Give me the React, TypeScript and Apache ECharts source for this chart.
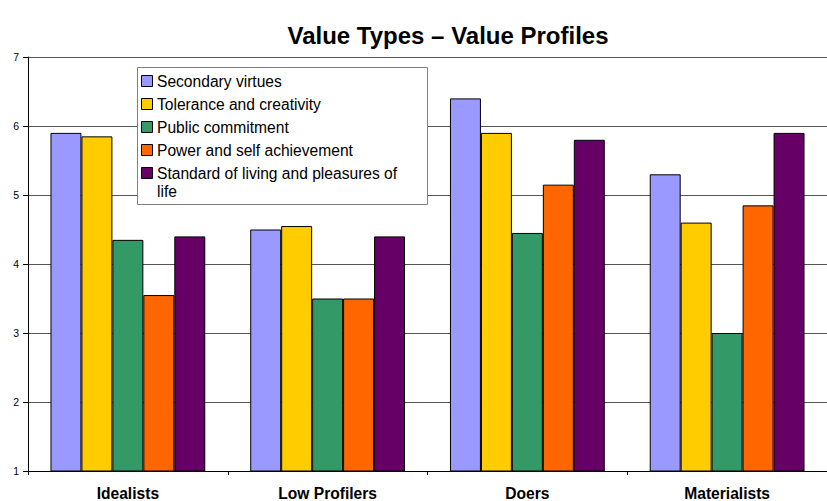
import React, { useEffect, useRef } from "react";
import * as echarts from "echarts";

const categories = ["Idealists", "Low Profilers", "Doers", "Materialists"];
const seriesNames = [
  "Secondary virtues",
  "Tolerance and creativity",
  "Public commitment",
  "Power and self achievement",
  "Standard of living and pleasures of life",
];
const legendLabels = [
  "Secondary virtues",
  "Tolerance and creativity",
  "Public commitment",
  "Power and self achievement",
  "Standard of living and pleasures of\nlife",
];
const colors = ["#9999FF", "#FFCC00", "#339966", "#FF6600", "#660066"];
const secondaryVirtues = [5.9, 4.5, 6.4, 5.3];
const toleranceCreativity = [5.85, 4.55, 5.9, 4.6];
const publicCommitment = [4.35, 3.5, 4.45, 3.0];
const powerAchievement = [3.55, 3.5, 5.15, 4.85];
const standardLiving = [4.4, 4.4, 5.8, 5.9];
const seriesValues = [secondaryVirtues, toleranceCreativity, publicCommitment, powerAchievement, standardLiving];

export default function App() {
  const ref = useRef<HTMLDivElement>(null);
  useEffect(() => {
    if (!ref.current) return;
    const chart = echarts.init(ref.current, undefined, { renderer: "svg" });
    const font = "Arial, 'Liberation Sans', sans-serif";
    const legendEls: any[] = [
      {
        type: "rect",
        shape: { x: 137.5, y: 67.5, width: 290, height: 137 },
        style: { fill: "#fff", stroke: "#808080", lineWidth: 1 },
        z: 100,
      },
    ];
    legendLabels.forEach((lab, i) => {
      const cy = 81 + i * 23;
      legendEls.push({
        type: "rect",
        shape: { x: 141.5, y: cy - 5.5, width: 11, height: 11 },
        style: { fill: colors[i], stroke: "#000", lineWidth: 1 },
        z: 101,
      });
      legendEls.push({
        type: "text",
        x: 157,
        y: cy - 9,
        style: {
          text: lab,
          fill: "#000",
          font: `15.6px ${font}`,
          lineHeight: 18,
          textVerticalAlign: "top",
        },
        z: 101,
      });
    });
    chart.setOption({
      animation: false,
      title: {
        text: "Value Types \u2013 Value Profiles",
        left: 443,
        textAlign: "center",
        top: 18,
        textStyle: { fontFamily: font, fontSize: 24, fontWeight: "bold", color: "#000" },
      },
      grid: { left: 28, top: 57, width: 800, height: 414, containLabel: false },
      xAxis: {
        type: "category",
        data: categories,
        axisLine: { lineStyle: { color: "#000", width: 1 } },
        axisTick: { show: true, length: 4, lineStyle: { color: "#000" } },
        axisLabel: { fontFamily: font, fontSize: 15.6, fontWeight: "bold", color: "#000", margin: 14 },
      },
      yAxis: {
        type: "value",
        min: 1,
        max: 7,
        interval: 1,
        axisLine: { show: true, lineStyle: { color: "#000", width: 1 } },
        axisTick: { show: true, length: 5, lineStyle: { color: "#000" } },
        axisLabel: { fontFamily: font, fontSize: 10.5, color: "#000", margin: 9 },
        splitLine: { show: true, lineStyle: { color: "#555", width: 1 } },
      },
      graphic: legendEls,
      series: seriesNames.map((name, i) => ({
        name,
        type: "bar",
        data: seriesValues[i],
        barGap: "0%",
        barCategoryGap: "22.5%",
        itemStyle: { color: colors[i], borderColor: "#000", borderWidth: 1 },
      })),
    });
    return () => chart.dispose();
  }, []);
  return (
    <div
      ref={ref}
      style={{ position: "fixed", left: 0, top: 0, width: 827, height: 501, background: "#fff" }}
    />
  );
}
